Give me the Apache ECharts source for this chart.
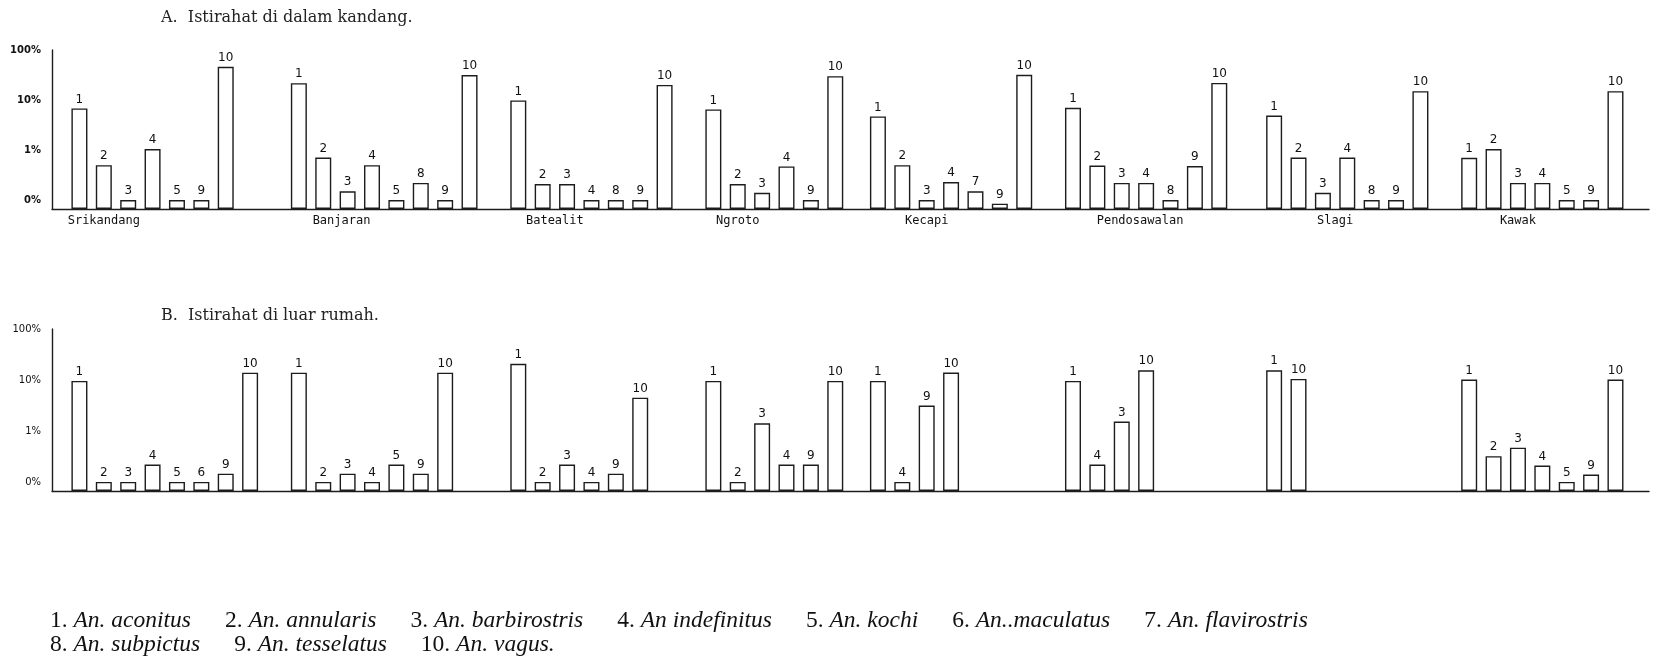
<!DOCTYPE html>
<html>
<head>
<meta charset="utf-8">
<style>
html,body{margin:0;padding:0;background:#ffffff;}
#chart{width:1656px;height:658px;}
</style>
<script src="https://cdn.jsdelivr.net/npm/echarts@6/dist/echarts.min.js"></script>
</head>
<body>
<div id="chart"></div>
<script>
// ---------------- DATA ----------------
const stations = ['Srikandang', 'Banjaran', 'Batealit', 'Ngroto', 'Kecapi', 'Pendosawalan', 'Slagi', 'Kawak'];

// Panel A: species numbers (bar labels) per station, in drawing order
const speciesA = [
  [1, 2, 3, 4, 5, 9, 10],
  [1, 2, 3, 4, 5, 8, 9, 10],
  [1, 2, 3, 4, 8, 9, 10],
  [1, 2, 3, 4, 9, 10],
  [1, 2, 3, 4, 7, 9, 10],
  [1, 2, 3, 4, 8, 9, 10],
  [1, 2, 3, 4, 8, 9, 10],
  [1, 2, 3, 4, 5, 9, 10]
];
// Panel A: percentages (log scale)
const valuesA = [
  [6.8, 0.5, 0.1, 1.05, 0.1, 0.1, 46],
  [21.7, 0.71, 0.15, 0.5, 0.1, 0.22, 0.1, 31.6],
  [9.8, 0.21, 0.21, 0.1, 0.1, 0.1, 20],
  [6.5, 0.21, 0.14, 0.47, 0.1, 30],
  [4.7, 0.5, 0.1, 0.23, 0.15, 0.085, 32],
  [7.0, 0.49, 0.22, 0.22, 0.1, 0.48, 22],
  [4.9, 0.71, 0.14, 0.71, 0.1, 0.1, 15],
  [0.7, 1.05, 0.22, 0.22, 0.1, 0.1, 15]
];

// Panel B
const speciesB = [
  [1, 2, 3, 4, 5, 6, 9, 10],
  [1, 2, 3, 4, 5, 9, 10],
  [1, 2, 3, 4, 9, 10],
  [1, 2, 3, 4, 9, 10],
  [1, 4, 9, 10],
  [1, 4, 3, 10],
  [1, 10],
  [1, 2, 3, 4, 5, 9, 10]
];
const valuesB = [
  [9.6, 0.1, 0.1, 0.22, 0.1, 0.1, 0.145, 13.9],
  [13.9, 0.1, 0.145, 0.1, 0.22, 0.145, 13.9],
  [20.8, 0.1, 0.22, 0.1, 0.145, 4.5],
  [9.6, 0.1, 1.41, 0.22, 0.22, 9.6],
  [9.6, 0.1, 3.16, 14],
  [9.6, 0.22, 1.53, 15.5],
  [15.5, 10.5],
  [10.2, 0.32, 0.47, 0.21, 0.1, 0.14, 10.2]
];

const tickValues = [0.1, 1, 10, 100];
const tickLabels = ['0%', '1%', '10%', '100%'];

const titleA = 'A.  Istirahat di dalam kandang.';
const titleB = 'B.  Istirahat di luar rumah.';

const legendLine1 = [
  ['1.', 'An. aconitus'], ['2.', 'An. annularis'], ['3.', 'An. barbirostris'],
  ['4.', 'An indefinitus'], ['5.', 'An. kochi'], ['6.', 'An..maculatus'], ['7.', 'An. flavirostris']
];
const legendLine2 = [
  ['8.', 'An. subpictus'], ['9.', 'An. tesselatus'], ['10.', 'An. vagus.']
];

// ---------------- LAYOUT ----------------
const BASE = 0.0664;            // percentage sitting on the baseline
const SLOTS = 262;              // quarter-pitch category slots
const LEAD = 4;                 // empty slots before first bar
const PITCH = 4;                // slots between neighbouring bars
const groupStart = [0, 36, 72, 104, 131, 163, 196, 228];
const labelSlot = [4, 7, 6, 4, 8, 11, 10, 8];
const INK = '#1c1c1c';

const t = v => Math.log10(v / BASE);

const categories = Array.from({length: SLOTS}, (_, i) => 'c' + i);

function buildData(species, values) {
  const arr = new Array(SLOTS).fill('-');
  species.forEach((grp, g) => {
    grp.forEach((sp, k) => {
      arr[LEAD + groupStart[g] + PITCH * k] = {value: t(values[g][k]), sp: String(sp)};
    });
  });
  return arr;
}

const stationLabelMap = {};
stations.forEach((s, g) => { stationLabelMap['c' + (LEAD + groupStart[g] + labelSlot[g])] = s; });

function yLabelFmt(v) {
  const pct = BASE * Math.pow(10, v);
  let best = 0;
  tickValues.forEach((tv, i) => {
    if (Math.abs(Math.log10(tv / pct)) < Math.abs(Math.log10(tickValues[best] / pct))) best = i;
  });
  return tickLabels[best];
}

function makeYAxis(gridIndex, bold) {
  return {
    type: 'value', gridIndex: gridIndex, min: 0, max: t(100),
    axisLine: {show: true, lineStyle: {color: INK, width: 1.4}},
    axisTick: {show: false},
    splitLine: {show: false},
    axisLabel: {
      customValues: tickValues.map(t),
      formatter: yLabelFmt,
      fontFamily: 'DejaVu Sans', fontSize: 10, fontWeight: bold ? 'bold' : 'normal',
      color: '#111', margin: 11
    }
  };
}

function makeXAxis(gridIndex, showLabels) {
  return {
    type: 'category', gridIndex: gridIndex, data: categories,
    axisLine: {show: true, lineStyle: {color: INK, width: 1.4}},
    axisTick: {show: false},
    splitLine: {show: false},
    axisLabel: {
      show: showLabels, interval: 0, margin: 6,
      formatter: v => stationLabelMap[v] || '',
      fontFamily: 'DejaVu Sans Mono', fontSize: 12, color: '#111'
    }
  };
}

function makeSeries(idx, species, values) {
  return {
    type: 'bar', xAxisIndex: idx, yAxisIndex: idx,
    data: buildData(species, values),
    barWidth: 16,
    silent: true,
    itemStyle: {color: '#ffffff', borderColor: INK, borderWidth: 1.4},
    label: {
      show: true, position: 'top', distance: 3,
      formatter: p => p.data.sp,
      fontFamily: 'DejaVu Sans', fontSize: 12, color: '#111'
    }
  };
}

const legendRich = {
  n: {fontFamily: 'Liberation Serif', fontSize: 23.5, color: '#111'},
  i: {fontFamily: 'Liberation Serif', fontSize: 23.5, fontStyle: 'italic', color: '#111'},
  g: {fontSize: 23.5, width: 34}
};
function legendText(items) {
  return items.map(([n, name]) => '{n|' + n + ' }{i|' + name + '}').join('{g| }');
}

const chart = echarts.init(document.getElementById('chart'), null, {renderer: 'canvas'});
chart.setOption({
  animation: false,
  backgroundColor: '#ffffff',
  title: [
    {text: titleA, left: 156, top: 5,
     textStyle: {fontFamily: 'DejaVu Serif', fontSize: 16, fontWeight: 'normal', color: '#222'}},
    {text: titleB, left: 156, top: 303,
     textStyle: {fontFamily: 'DejaVu Serif', fontSize: 16, fontWeight: 'normal', color: '#222'}}
  ],
  grid: [
    {left: 52, top: 50, width: 1597, height: 159},
    {left: 52, top: 329, width: 1597, height: 162}
  ],
  xAxis: [makeXAxis(0, true), makeXAxis(1, false)],
  yAxis: [makeYAxis(0, true), makeYAxis(1, false)],
  series: [makeSeries(0, speciesA, valuesA), makeSeries(1, speciesB, valuesB)],
  graphic: [
    {type: 'text', left: 50, top: 609, silent: true,
     style: {text: legendText(legendLine1), rich: legendRich, fill: '#111'}},
    {type: 'text', left: 50, top: 633, silent: true,
     style: {text: legendText(legendLine2), rich: legendRich, fill: '#111'}}
  ]
});
</script>
</body>
</html>
